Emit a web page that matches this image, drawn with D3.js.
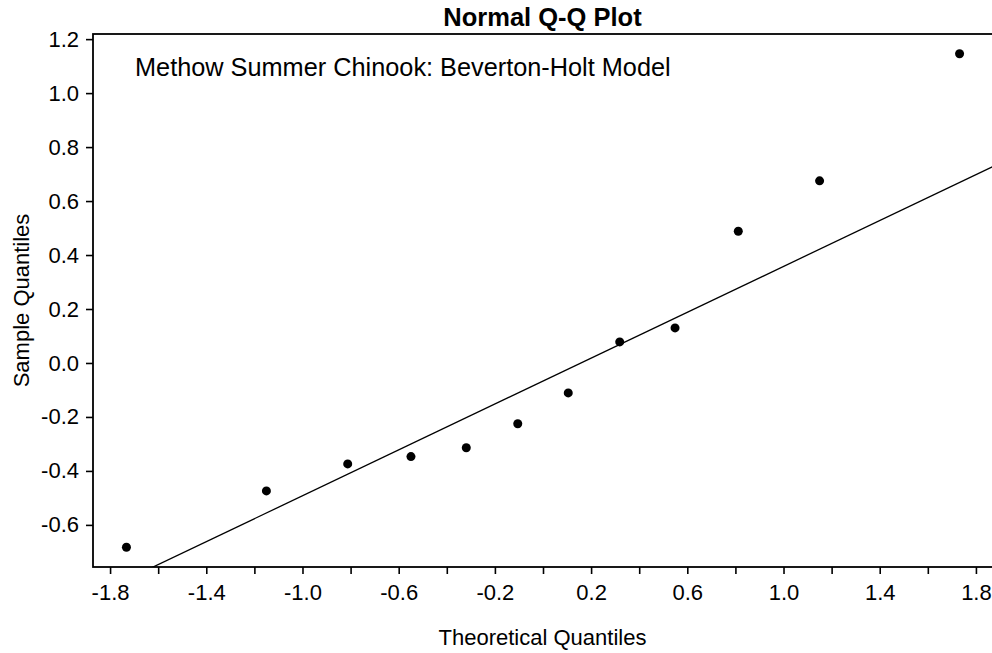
<!DOCTYPE html>
<html><head><meta charset="utf-8">
<script src="https://cdn.jsdelivr.net/npm/d3@7"></script>
<style>
body{margin:0;background:#fff;overflow:hidden}
text{font-family:"Liberation Sans",Arial,sans-serif;fill:#000}
</style>
</head><body>
<svg id="chart" width="992" height="653"></svg>
<script>
// ---- data ----
const theoretical = [-1.732, -1.150, -0.812, -0.549, -0.319, -0.105, 0.105, 0.319, 0.549, 0.812, 1.150, 1.732];
const sample      = [-0.683, -0.474, -0.374, -0.347, -0.314, -0.225, -0.111, 0.078, 0.130, 0.488, 0.675, 1.146];
const xTicks  = [-1.8,-1.6,-1.4,-1.2,-1.0,-0.8,-0.6,-0.4,-0.2,0.0,0.2,0.4,0.6,0.8,1.0,1.2,1.4,1.6,1.8];
const xLabels = [-1.8,-1.4,-1.0,-0.6,-0.2,0.2,0.6,1.0,1.4,1.8];
const yTicks  = [-0.6,-0.4,-0.2,0.0,0.2,0.4,0.6,0.8,1.0,1.2];
const xDomain = [-1.871, 1.871];
const yDomain = [-0.756, 1.219];
const zQuartile = 0.6745; // qnorm(0.75)
const titleText = "Normal Q-Q Plot";
const subtitleText = "Methow Summer Chinook: Beverton-Holt Model";
const xTitle = "Theoretical Quantiles";
const yTitle = "Sample Quantiles";

// ---- layout ----
const L = 93, R = 993, T = 34, B = 567;
const svg = d3.select("#chart");
const x = d3.scaleLinear().domain(xDomain).range([L, R]);
const y = d3.scaleLinear().domain(yDomain).range([B, T]);
const fmt = v => (Math.abs(v) < 1e-9 ? 0 : v).toFixed(1);

// clip
svg.append("defs").append("clipPath").attr("id","clip")
  .append("rect").attr("x",L).attr("y",T).attr("width",R-L).attr("height",B-T);

// qq line (through quartiles, as R's qqline)
const sorted = sample.slice().sort(d3.ascending);
const q1 = d3.quantile(sorted, 0.25), q3 = d3.quantile(sorted, 0.75);
const slope = (q3 - q1) / (2 * zQuartile);
const intercept = (q1 + q3) / 2;
svg.append("line").attr("clip-path","url(#clip)")
  .attr("x1", x(xDomain[0])).attr("y1", y(intercept + slope*xDomain[0]))
  .attr("x2", x(xDomain[1])).attr("y2", y(intercept + slope*xDomain[1]))
  .attr("stroke","#000").attr("stroke-width",1.3);

// points
svg.append("g").selectAll("circle").data(theoretical).join("circle")
  .attr("cx", d => x(d)).attr("cy", (d,i) => y(sample[i]))
  .attr("r", 4.5).attr("fill","#000");

// box
svg.append("rect").attr("x",L).attr("y",T).attr("width",R-L).attr("height",B-T)
  .attr("fill","none").attr("stroke","#000").attr("stroke-width",1.8);

// axes
const isLabel = v => xLabels.some(l => Math.abs(l - v) < 1e-9);
const xAxis = d3.axisBottom(x).tickValues(xTicks).tickSize(7).tickPadding(10)
  .tickFormat(v => isLabel(v) ? fmt(v) : "");
const gx = svg.append("g").attr("transform",`translate(0,${B})`).call(xAxis);
gx.select(".domain").remove();
gx.selectAll(".tick line").attr("stroke","#000").attr("stroke-width",1.6);
gx.selectAll(".tick text").attr("font-size",22).attr("font-family",null).attr("fill","#000");

const yAxis = d3.axisLeft(y).tickValues(yTicks).tickSize(7).tickPadding(7).tickFormat(fmt);
const gy = svg.append("g").attr("transform",`translate(${L},0)`).call(yAxis);
gy.select(".domain").remove();
gy.selectAll(".tick line").attr("stroke","#000").attr("stroke-width",1.6);
gy.selectAll(".tick text").attr("font-size",22).attr("font-family",null).attr("fill","#000");

// titles
svg.append("text").attr("x",(L+992)/2).attr("y",26).attr("text-anchor","middle")
  .attr("font-size",25.5).attr("font-weight","bold").text(titleText);
svg.append("text").attr("x",135).attr("y",76).attr("font-size",25.3).text(subtitleText);
svg.append("text").attr("x",(L+992)/2).attr("y",645).attr("text-anchor","middle")
  .attr("font-size",22).text(xTitle);
svg.append("text").attr("transform",`translate(29,${(T+B)/2}) rotate(-90)`)
  .attr("text-anchor","middle").attr("font-size",22).text(yTitle);
</script>
</body></html>
